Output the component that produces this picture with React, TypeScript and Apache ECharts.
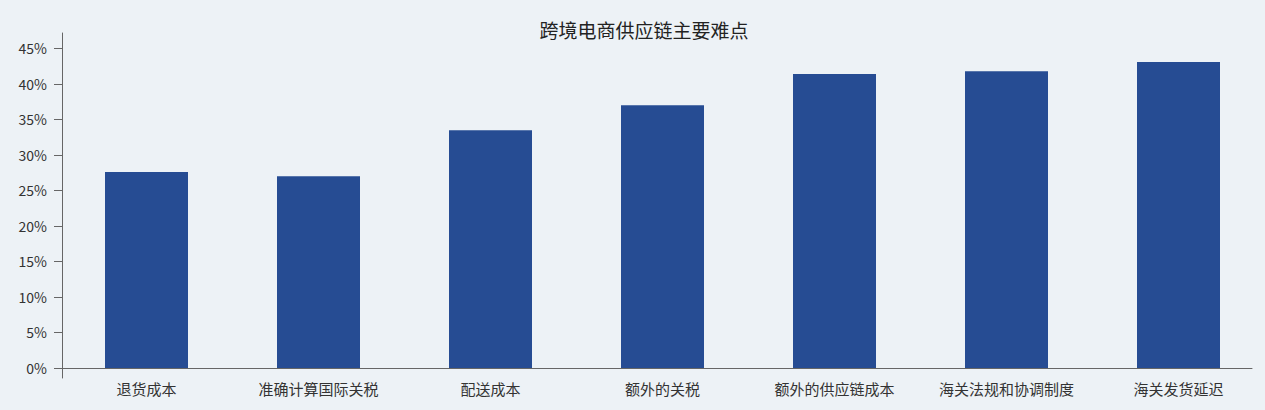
import { useEffect, useRef } from 'react';
import * as echarts from 'echarts';

const categories = ['退货成本', '准确计算国际关税', '配送成本', '额外的关税', '额外的供应链成本', '海关法规和协调制度', '海关发货延迟'];
const shares = [27.6, 27.0, 33.5, 37.0, 41.4, 41.8, 43.1];
const tickValues = [0, 5, 10, 15, 20, 25, 30, 35, 40, 45];

const FONT = '"Noto Sans CJK SC", "Noto Sans", sans-serif';
const Y_MIN = -1.41;
const Y_MAX = 47.18;

export default function App() {
  const chartRef = useRef<HTMLDivElement>(null);

  useEffect(() => {
    if (!chartRef.current) return;
    const chart = echarts.init(chartRef.current, null, { renderer: 'svg' });

    const option = {
      animation: false,
      backgroundColor: '#edf2f6',
      textStyle: { fontFamily: FONT },
      title: {
        text: '跨境电商供应链主要难点',
        left: 639,
        top: 15,
        textAlign: 'center',
        textStyle: { fontFamily: FONT, fontSize: 19, fontWeight: 'normal', color: '#222' },
      },
      grid: [
        { left: 60.5, right: 0.5, top: 33, bottom: 32 },
        { left: 62, right: 13, top: 33, bottom: 32 },
      ],
      xAxis: [
        {
          type: 'category',
          gridIndex: 0,
          data: categories,
          axisLine: { show: false, onZero: false },
          axisTick: { show: false },
          axisLabel: { interval: 0, fontFamily: FONT, fontSize: 15, color: '#333', margin: 3 },
        },
        {
          type: 'value',
          gridIndex: 1,
          min: 0,
          max: 1,
          axisLine: { show: true, onZero: true, lineStyle: { color: '#666', width: 1 } },
          axisTick: { show: false },
          axisLabel: { show: false },
          splitLine: { show: false },
        },
      ],
      yAxis: [
        {
          type: 'value',
          gridIndex: 0,
          min: Y_MIN,
          max: Y_MAX,
          show: false,
        },
        {
          type: 'value',
          gridIndex: 1,
          min: Y_MIN,
          max: Y_MAX,
          axisLine: { show: true, lineStyle: { color: '#666', width: 1 } },
          axisTick: { show: true, length: 8, customValues: tickValues, lineStyle: { color: '#666' } },
          axisLabel: {
            customValues: tickValues,
            formatter: '{value}%',
            fontFamily: FONT,
            fontSize: 14,
            color: '#333',
            margin: 15,
          },
          splitLine: { show: false },
        },
      ],
      series: [
        {
          type: 'bar',
          xAxisIndex: 0,
          yAxisIndex: 0,
          data: shares,
          barWidth: 83,
          itemStyle: { color: '#264c93' },
        },
      ],
    };

    chart.setOption(option);
    return () => {
      chart.dispose();
    };
  }, []);

  return (
    <div
      ref={chartRef}
      style={{ position: 'absolute', left: 0, top: 0, width: '1265px', height: '410px' }}
    ></div>
  );
}
